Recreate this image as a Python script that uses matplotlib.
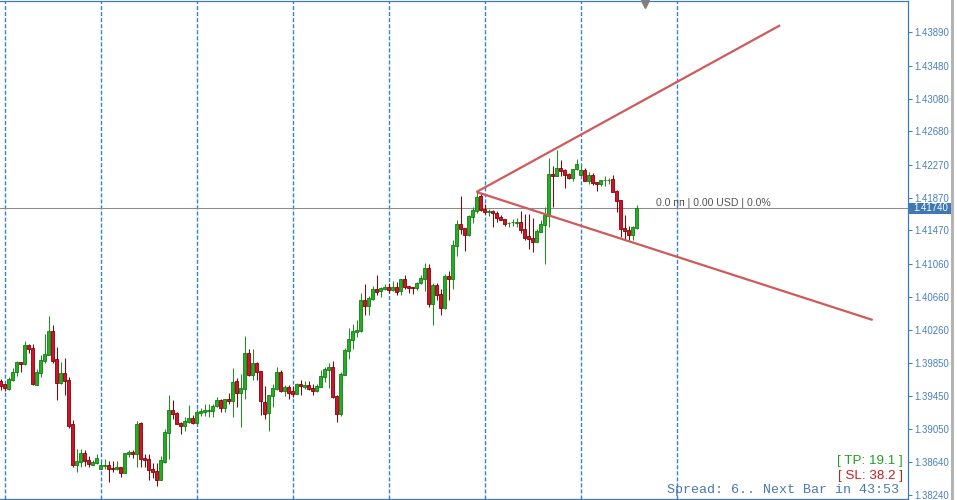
"""EURUSD-style H1 candle chart with a wedge drawn on it (MT4 look)"""

import matplotlib
matplotlib.use("Agg")
import matplotlib.pyplot as plt
import matplotlib.transforms as mtransforms
from matplotlib.patches import Rectangle
import numpy as np

# ---- data ----
opens = [
    1.39636, 1.39595, 1.39538, 1.39644, 1.39738, 1.39864, 1.39844, 1.40072, 1.40035, 1.39587,
    1.39734, 1.39876, 1.39954, 1.40243, 1.39897, 1.39604, 1.39730, 1.39644, 1.39107, 1.38610,
    1.38647, 1.38753, 1.38667, 1.38610, 1.38627, 1.38562, 1.38598, 1.38606, 1.38570, 1.38558,
    1.38582, 1.38513, 1.38741, 1.38769, 1.38745, 1.39115, 1.38696, 1.38680, 1.38558, 1.38533,
    1.38423, 1.38643, 1.39001, 1.39278, 1.39241, 1.39119, 1.39079, 1.39131, 1.39180, 1.39119,
    1.39246, 1.39258, 1.39266, 1.39270, 1.39323, 1.39401, 1.39307, 1.39413, 1.39392, 1.39632,
    1.39490, 1.39539, 1.39974, 1.39706, 1.39852, 1.39755, 1.39376, 1.39246, 1.39453, 1.39539,
    1.39742, 1.39515, 1.39559, 1.39515, 1.39478, 1.39596, 1.39563, 1.39584, 1.39547, 1.39515,
    1.39563, 1.39685, 1.39771, 1.39803, 1.39453, 1.39234, 1.39710, 1.40003, 1.40137, 1.40235,
    1.40247, 1.40621, 1.40552, 1.40638, 1.40756, 1.40735, 1.40760, 1.40780, 1.40748, 1.40780,
    1.40731, 1.40878, 1.40792, 1.40780, 1.40772, 1.40825, 1.40882, 1.41012, 1.40577, 1.40805,
    1.40695, 1.40524, 1.40915, 1.40882, 1.41285, 1.41549, 1.41500, 1.41411, 1.41639, 1.41712,
    1.41891, 1.41737, 1.41700, 1.41708, 1.41684, 1.41635, 1.41610, 1.41557, 1.41570, 1.41566,
    1.41574, 1.41488, 1.41403, 1.41378, 1.41334, 1.41456, 1.41541, 1.41651, 1.42160, 1.42140,
    1.42233, 1.42209, 1.42160, 1.42115, 1.42217, 1.42152, 1.42213, 1.42078, 1.42152, 1.42066,
    1.42042, 1.42083, 1.42083, 1.42099, 1.41952, 1.41842, 1.41500, 1.41476, 1.41419, 1.41500,
]
highs = [
    1.39656, 1.39595, 1.39681, 1.39787, 1.39872, 1.39864, 1.40120, 1.40084, 1.40084, 1.39774,
    1.39949, 1.40210, 1.40426, 1.40316, 1.40047, 1.39864, 1.39913, 1.39681, 1.39156, 1.38802,
    1.38802, 1.38785, 1.38720, 1.38667, 1.38741, 1.38643, 1.38680, 1.38659, 1.38655, 1.38655,
    1.38582, 1.38749, 1.38790, 1.38790, 1.39144, 1.39127, 1.38741, 1.38741, 1.38631, 1.38631,
    1.38716, 1.39046, 1.39461, 1.39400, 1.39253, 1.39131, 1.39192, 1.39339, 1.39217, 1.39290,
    1.39299, 1.39348, 1.39348, 1.39352, 1.39437, 1.39409, 1.39413, 1.39486, 1.39791, 1.39669,
    1.39718, 1.40182, 1.40023, 1.40023, 1.39865, 1.39755, 1.39576, 1.39462, 1.39600, 1.39803,
    1.39767, 1.39584, 1.39584, 1.39576, 1.39608, 1.39645, 1.39633, 1.39633, 1.39596, 1.39596,
    1.39767, 1.39803, 1.39852, 1.39877, 1.39466, 1.39742, 1.40035, 1.40280, 1.40328, 1.40377,
    1.40707, 1.40817, 1.40670, 1.40792, 1.40927, 1.40780, 1.40817, 1.40829, 1.40853, 1.40841,
    1.40878, 1.40927, 1.40792, 1.40780, 1.40841, 1.40927, 1.41073, 1.41061, 1.40829, 1.40829,
    1.40756, 1.40939, 1.40976, 1.41354, 1.41598, 1.41891, 1.41500, 1.41659, 1.41761, 1.41940,
    1.41924, 1.41794, 1.41728, 1.41720, 1.41704, 1.41659, 1.41610, 1.41578, 1.41610, 1.41623,
    1.41712, 1.41671, 1.41671, 1.41623, 1.41492, 1.41598, 1.41761, 1.42355, 1.42258, 1.42453,
    1.42331, 1.42221, 1.42172, 1.42221, 1.42343, 1.42258, 1.42229, 1.42184, 1.42172, 1.42066,
    1.42087, 1.42135, 1.42107, 1.42148, 1.41965, 1.41842, 1.41659, 1.41525, 1.41525, 1.41781,
]
lows = [
    1.39522, 1.39514, 1.39522, 1.39632, 1.39693, 1.39746, 1.39831, 1.39978, 1.39587, 1.39587,
    1.39681, 1.39848, 1.39945, 1.39848, 1.39404, 1.39600, 1.39465, 1.39062, 1.38586, 1.38521,
    1.38586, 1.38598, 1.38586, 1.38602, 1.38619, 1.38558, 1.38562, 1.38399, 1.38517, 1.38541,
    1.38464, 1.38513, 1.38704, 1.38692, 1.38586, 1.38586, 1.38586, 1.38423, 1.38452, 1.38354,
    1.38423, 1.38627, 1.38684, 1.39164, 1.39107, 1.38985, 1.39022, 1.39119, 1.39107, 1.39111,
    1.39209, 1.39209, 1.39189, 1.39197, 1.39315, 1.39254, 1.39254, 1.39356, 1.39197, 1.39319,
    1.39075, 1.39409, 1.39698, 1.39649, 1.39649, 1.39221, 1.39173, 1.39026, 1.39319, 1.39527,
    1.39502, 1.39453, 1.39417, 1.39441, 1.39474, 1.39466, 1.39539, 1.39523, 1.39466, 1.39498,
    1.39559, 1.39624, 1.39551, 1.39429, 1.39136, 1.39209, 1.39706, 1.39905, 1.40027, 1.40174,
    1.40235, 1.40442, 1.40442, 1.40621, 1.40687, 1.40662, 1.40744, 1.40711, 1.40735, 1.40687,
    1.40687, 1.40760, 1.40711, 1.40699, 1.40748, 1.40817, 1.40735, 1.40540, 1.40320, 1.40626,
    1.40442, 1.40516, 1.40626, 1.40756, 1.41159, 1.41427, 1.41224, 1.41403, 1.41566, 1.41688,
    1.41708, 1.41671, 1.41647, 1.41517, 1.41578, 1.41598, 1.41525, 1.41509, 1.41525, 1.41517,
    1.41444, 1.41354, 1.41248, 1.41212, 1.41330, 1.41452, 1.41061, 1.41517, 1.41761, 1.42135,
    1.42135, 1.41993, 1.42095, 1.42078, 1.42209, 1.42144, 1.42078, 1.42038, 1.42030, 1.41956,
    1.42017, 1.42017, 1.42042, 1.41936, 1.41696, 1.41395, 1.41370, 1.41354, 1.41354, 1.41492,
]
closes = [
    1.39571, 1.39547, 1.39656, 1.39742, 1.39864, 1.39844, 1.40072, 1.40027, 1.39595, 1.39742,
    1.39888, 1.39962, 1.40243, 1.39876, 1.39612, 1.39730, 1.39636, 1.39079, 1.38610, 1.38651,
    1.38753, 1.38655, 1.38619, 1.38643, 1.38692, 1.38606, 1.38606, 1.38562, 1.38562, 1.38582,
    1.38513, 1.38749, 1.38769, 1.38741, 1.39107, 1.38684, 1.38667, 1.38549, 1.38521, 1.38423,
    1.38667, 1.39009, 1.39278, 1.39233, 1.39107, 1.39083, 1.39144, 1.39180, 1.39119, 1.39253,
    1.39270, 1.39283, 1.39279, 1.39327, 1.39401, 1.39307, 1.39413, 1.39392, 1.39620, 1.39490,
    1.39547, 1.39974, 1.39706, 1.39852, 1.39738, 1.39392, 1.39234, 1.39462, 1.39547, 1.39742,
    1.39515, 1.39559, 1.39490, 1.39478, 1.39596, 1.39576, 1.39584, 1.39539, 1.39515, 1.39571,
    1.39694, 1.39779, 1.39803, 1.39441, 1.39234, 1.39718, 1.40011, 1.40145, 1.40243, 1.40255,
    1.40621, 1.40552, 1.40646, 1.40756, 1.40723, 1.40768, 1.40780, 1.40748, 1.40780, 1.40723,
    1.40878, 1.40784, 1.40772, 1.40772, 1.40829, 1.40890, 1.41012, 1.40577, 1.40805, 1.40687,
    1.40528, 1.40915, 1.40882, 1.41289, 1.41549, 1.41492, 1.41415, 1.41647, 1.41720, 1.41879,
    1.41720, 1.41700, 1.41708, 1.41680, 1.41627, 1.41598, 1.41549, 1.41566, 1.41578, 1.41574,
    1.41480, 1.41378, 1.41366, 1.41330, 1.41464, 1.41549, 1.41659, 1.42160, 1.42140, 1.42233,
    1.42201, 1.42152, 1.42115, 1.42221, 1.42282, 1.42213, 1.42078, 1.42148, 1.42054, 1.42042,
    1.42087, 1.42087, 1.42091, 1.41940, 1.41834, 1.41492, 1.41468, 1.41419, 1.41509, 1.41740,
]

price_ticks = [1.43890, 1.43480, 1.43080, 1.42680, 1.42270, 1.41870, 1.41470,
               1.41060, 1.40660, 1.40260, 1.39850, 1.39450, 1.39050, 1.38640, 1.38240]
bid = 1.41740
day_starts = [1, 25, 49, 73, 97, 121, 145, 169]   # bar index of each period separator

# wedge drawn from the apex to two far points (bar index, price)
wedge_apex = (119, 1.41940)
wedge_upper = (194.9, 1.43976)
wedge_lower = (218.05, 1.40377)

info_text = "0.0 пп | 0.00 USD | 0.0%"
tp_text = "[ TP: 19.1 ]"
sl_text = "[ SL: 38.2 ]"
status_text = "Spread: 6.. Next Bar in 43:53"

# ---- figure ----
W, H = 957, 500
fig = plt.figure(figsize=(W / 100, H / 100), dpi=100)
ax = fig.add_axes([0, 1.5 / H, 908 / W, 497.2 / H])
ax.set_xlim(-0.125, 226.875)
ax.set_ylim(1.38197, 1.44269)

blue = "#3d7ab8"

# period separators
for d in day_starts:
    ax.axvline(d, color="#3080dc", lw=1.0, linestyle=(0, (2.9, 1.45)), zorder=1)

# bid line
ax.axhline(bid, color="#8c8c8c", lw=0.75, zorder=2)

# candles
o = np.array(opens)
h = np.array(highs)
l = np.array(lows)
c = np.array(closes)
x = np.arange(len(c))
up = c >= o
wick_col = np.where(up, "#17951a", "#920000")
ax.vlines(x, l, h, colors=wick_col, lw=0.75, zorder=3)
body_bottom = np.minimum(o, c)
body_h = np.maximum(np.abs(c - o), 0.00004)
ax.bar(x[up], body_h[up], bottom=body_bottom[up], width=0.8,
       color="#22b022", edgecolor="#137a13", linewidth=0.6, zorder=4)
ax.bar(x[~up], body_h[~up], bottom=body_bottom[~up], width=0.8,
       color="#d0122e", edgecolor="#860000", linewidth=0.6, zorder=4)

# wedge lines
for end in (wedge_upper, wedge_lower):
    ax.plot([wedge_apex[0], end[0]], [wedge_apex[1], end[1]],
            color="#d05a5a", lw=1.6, solid_capstyle="butt", zorder=5)

ax.text(164, 1.41809, info_text, fontsize=7.6, color="#555555",
        va="center", ha="left", family="Liberation Sans", zorder=6)

# chart shift marker at the top
trans_xa = mtransforms.blended_transform_factory(ax.transData, ax.transAxes)
ax.plot([161], [0.994], marker="v", markersize=6, color="#808080",
        transform=trans_xa, clip_on=False, zorder=6)

# axes look
ax.spines["left"].set_visible(False)
for s in ("right", "top", "bottom"):
    ax.spines[s].set_color(blue)
    ax.spines[s].set_linewidth(0.9)
ax.set_xticks([])
ax.yaxis.tick_right()
ax.set_yticks(price_ticks)
ax.set_yticklabels([f"{p:.5f}" for p in price_ticks], family="Liberation Sans")
ax.tick_params(axis="y", colors=blue, labelsize=6.9, length=3, width=0.7, pad=1.5)
ax.tick_params(axis="y", labelcolor="#4a7fc0")

# bid label box on the price scale
trans_ay = mtransforms.blended_transform_factory(ax.transAxes, ax.transData)
ax.add_patch(Rectangle((1.001, bid - 0.00067), 43 / 908, 0.00134, transform=trans_ay,
                       facecolor="#3f78b4", edgecolor="none", clip_on=False, zorder=7))
ax.text(1.0 + 5 / 908, bid, f"{bid:.5f}", transform=trans_ay, color="white",
        fontsize=6.9, family="Liberation Sans", va="center", ha="left", zorder=8)

# right window border
fig.add_artist(Rectangle((951 / W, 0), 3 / W, 1, transform=fig.transFigure,
                         facecolor="#b4b4b4", edgecolor="none"))

# bottom-right info
fig.text(903 / W, 1 - 461 / H, tp_text, ha="right", va="center", color="#23a023",
         fontsize=9.6, family="Liberation Sans")
fig.text(903 / W, 1 - 476 / H, sl_text, ha="right", va="center", color="#c81e1e",
         fontsize=9.6, family="Liberation Sans")
fig.text(667 / W, 1 - 490 / H, status_text, ha="left", va="center", color="#4a78b0",
         fontsize=9.6, family="Liberation Mono")

fig.savefig("out.png", dpi=100)
